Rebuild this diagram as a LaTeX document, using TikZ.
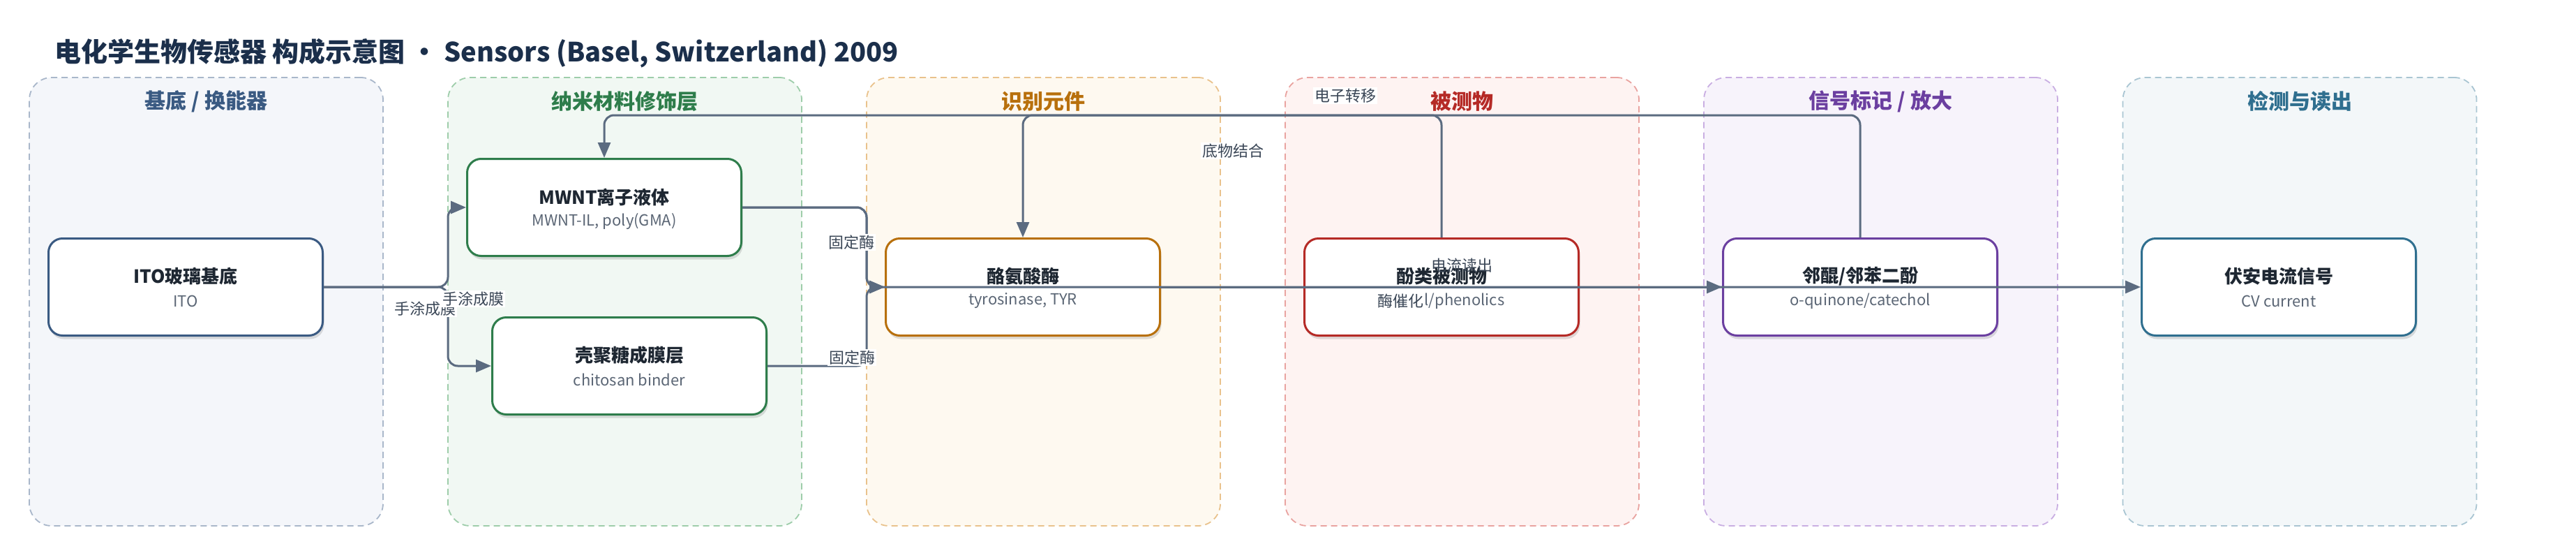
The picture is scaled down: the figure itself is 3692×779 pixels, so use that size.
\documentclass[tikz,border=0pt]{standalone}
\usepackage{fontspec}
\setmainfont{Noto Sans CJK SC}
\usetikzlibrary{arrows.meta,shadows,calc}
\definecolor{edgec}{HTML}{5B6B80}
\definecolor{labc}{HTML}{3A4656}
\definecolor{inkc}{HTML}{1E2732}
\definecolor{subc}{HTML}{5B6675}
\definecolor{titc}{HTML}{1B2F4B}
\definecolor{pAf}{HTML}{F4F6FA}\definecolor{pAb}{HTML}{A9B7CA}\definecolor{pAt}{HTML}{3A5A82}
\definecolor{pBf}{HTML}{F1F8F3}\definecolor{pBb}{HTML}{9ECDAA}\definecolor{pBt}{HTML}{2E7D4B}
\definecolor{pCf}{HTML}{FEF9F0}\definecolor{pCb}{HTML}{E9C28C}\definecolor{pCt}{HTML}{B8700C}
\definecolor{pDf}{HTML}{FEF3F2}\definecolor{pDb}{HTML}{E9A3A0}\definecolor{pDt}{HTML}{B52A26}
\definecolor{pEf}{HTML}{F7F3FB}\definecolor{pEb}{HTML}{C9AEE2}\definecolor{pEt}{HTML}{6B3FA0}
\definecolor{pFf}{HTML}{F3F7F9}\definecolor{pFb}{HTML}{A9C5D2}\definecolor{pFt}{HTML}{2F6F8F}
\newlength\phw
\newcommand\mysubfont{\fontsize{22}{26}\selectfont}
\begin{document}
\settowidth{\phw}{\mysubfont pheno}%
\begin{tikzpicture}[x=1pt,y=-1pt,
  panel/.style 2 args={draw=#1, fill=#2, dash pattern=on 9pt off 6pt, line width=1.8pt, rounded corners=32pt, minimum width=507pt, minimum height=642pt, inner sep=0pt},
  ptitle/.style={font=\bfseries\fontsize{30}{36}\selectfont, text=#1, inner sep=0pt},
  box/.style={draw=#1, line width=3pt, fill=white, rounded corners=20pt, minimum width=393pt, minimum height=139pt, inner sep=0pt, drop shadow={shadow xshift=2pt, shadow yshift=-5pt, fill=black, opacity=0.12}},
  ntitle/.style={font=\bfseries\fontsize{26}{30}\selectfont, text=inkc, inner sep=0pt},
  sub/.style={font=\mysubfont, text=subc, inner sep=0pt},
  edge/.style={draw=edgec, line width=3pt, rounded corners=14pt, -{Triangle[length=22pt,width=18pt]}},
  lab/.style={font=\fontsize{22}{26}\selectfont, text=labc, fill=white, inner sep=2pt}
]
\useasboundingbox (0,0) rectangle (3692,779);
% title
\node[anchor=west, font=\bfseries\fontsize{38}{44}\selectfont, text=titc, inner sep=0pt] (title) at (78,76) {电化学生物传感器 构成示意图 · Sensors (Basel, Switzerland) 2009};
% panels
\node[panel={pAb}{pAf}] (g1) at (295.5,432) {};
\node[panel={pBb}{pBf}] (g2) at (895.5,432) {};
\node[panel={pCb}{pCf}] (g3) at (1495.5,432) {};
\node[panel={pDb}{pDf}] (g4) at (2095.5,432) {};
\node[panel={pEb}{pEf}] (g5) at (2695.5,432) {};
\node[panel={pFb}{pFf}] (g6) at (3296,432) {};
\node[ptitle=pAt] (g1t) at (295.5,145) {基底 / 换能器};
\node[ptitle=pBt] (g2t) at (895.5,145) {纳米材料修饰层};
\node[ptitle=pCt] (g3t) at (1495.5,145) {识别元件};
\node[ptitle=pDt] (g4t) at (2095.5,145) {被测物};
\node[ptitle=pEt] (g5t) at (2695.5,145) {信号标记 / 放大};
\node[ptitle=pFt] (g6t) at (3296,145) {检测与读出};
% nodes
\node[box=pAt] (ito) at (266,411) {};
\node[box=pBt] (mwnt) at (866,297) {};
\node[box=pBt] (chit) at (902,524) {};
\node[box=pCt] (tyr) at (1466,411) {};
\node[box=pDt] (phen) at (2066,411) {};
\node[box=pEt] (quin) at (2666,411) {};
\node[box=pFt] (cv) at (3266,411) {};
\node[ntitle, yshift=15pt] (itot) at (ito.center) {ITO玻璃基底};
\node[sub, yshift=-20pt] (itos) at (ito.center) {ITO};
\node[ntitle, yshift=15pt] (mwntt) at (mwnt.center) {MWNT离子液体};
\node[sub, yshift=-20pt] (mwnts) at (mwnt.center) {MWNT-IL, poly(GMA)};
\node[ntitle, yshift=15pt] (chitt) at (chit.center) {壳聚糖成膜层};
\node[sub, yshift=-20pt] (chits) at (chit.center) {chitosan binder};
\node[ntitle, yshift=15pt] (tyrt) at (tyr.center) {酪氨酸酶};
\node[sub, yshift=-20pt] (tyrs) at (tyr.center) {tyrosinase, TYR};
\node[ntitle, yshift=15pt] (phent) at (phen.center) {酚类被测物};
\node[sub, yshift=-20pt] (phs) at (phen.center) {phenol/phenolics};
\node[ntitle, yshift=15pt] (quint) at (quin.center) {邻醌/邻苯二酚};
\node[sub, yshift=-20pt] (quins) at (quin.center) {o-quinone/catechol};
\node[ntitle, yshift=15pt] (cvt) at (cv.center) {伏安电流信号};
\node[sub, yshift=-20pt] (cvs) at (cv.center) {CV current};
% routing points
\coordinate (jL) at (642,411);
\coordinate (jR) at (1242,411);
\coordinate (topy) at (0,165);
% edges
\draw[edge] (ito.east) -- (jL) |- (mwnt.west);
\draw[edge] (ito.east) -- (jL) |- (chit.west);
\draw[edge] (mwnt.east) -| (jR) -- (tyr.west);
\draw[edge] (chit.east) -| (jR) -- (tyr.west);
\draw[edge] (mwnt.east) -| (jR) -- (cv.west);
\draw[edge] (tyr.east) -- (quin.west);
\draw[edge] (phen.north) |- (tyr.north |- topy) -- (tyr.north);
\draw[edge] (quin.north) |- (mwnt.north |- topy) -- (mwnt.north);
% labels
\node[lab] (l1) at (609,442) {手涂成膜};
\node[lab] (l2) at (678,428) {手涂成膜};
\node[lab] (l3) at (1220,347) {固定酶};
\node[lab] (l4) at (1221,512) {固定酶};
\node[lab] (l5) at (1767,216) {底物结合};
\node[lab] (l6) at (1928,137) {电子转移};
\node[lab, fill=none] (l7) at (2095,380) {电流读出};
\node[lab, anchor=east, inner xsep=1pt] (l8) at ($(phs.west)+(\phw,0)$) {酶催化};
\end{tikzpicture}
\end{document}
